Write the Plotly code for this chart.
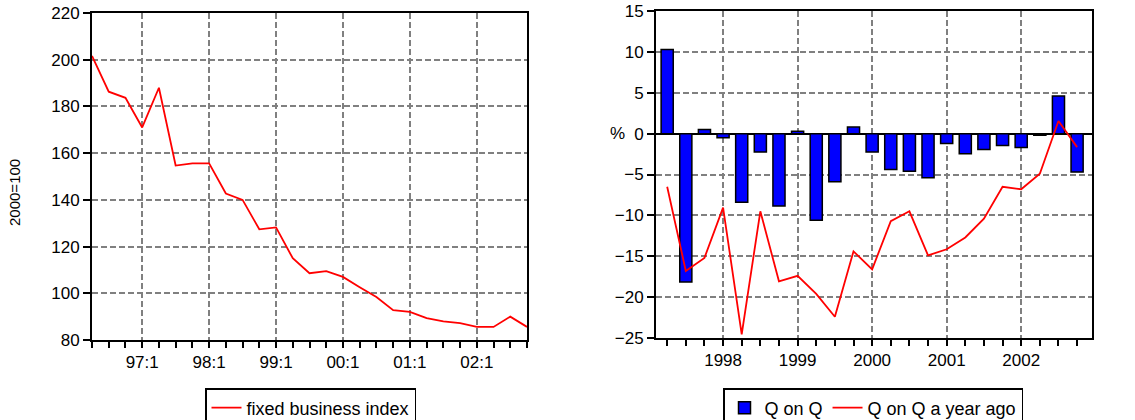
import plotly.graph_objects as go

# ---------------- data ----------------
quarters_left = ["96:2", "96:3", "96:4",
                 "97:1", "97:2", "97:3", "97:4",
                 "98:1", "98:2", "98:3", "98:4",
                 "99:1", "99:2", "99:3", "99:4",
                 "00:1", "00:2", "00:3", "00:4",
                 "01:1", "01:2", "01:3", "01:4",
                 "02:1", "02:2", "02:3", "02:4"]
fixed_business_index = [201.6, 186.3, 183.7,
                        171.0, 188.0, 154.7, 155.6,
                        155.6, 142.7, 140.0, 127.4,
                        128.2, 115.0, 108.6, 109.5,
                        107.0, 102.6, 98.4, 92.8,
                        92.0, 89.4, 88.0, 87.2,
                        85.6, 85.6, 90.0, 85.6]

quarters_right = ["1997Q2", "1997Q3", "1997Q4",
                  "1998Q1", "1998Q2", "1998Q3", "1998Q4",
                  "1999Q1", "1999Q2", "1999Q3", "1999Q4",
                  "2000Q1", "2000Q2", "2000Q3", "2000Q4",
                  "2001Q1", "2001Q2", "2001Q3", "2001Q4",
                  "2002Q1", "2002Q2", "2002Q3", "2002Q4"]
q_on_q = [10.3, -18.15, 0.5,
          -0.5, -8.4, -2.25, -8.85,
          0.3, -10.6, -5.9, 0.8,
          -2.25, -4.4, -4.6, -5.4,
          -1.2, -2.45, -1.95, -1.45,
          -1.7, -0.2, 4.6, -4.7]
q_on_q_year_ago = [-6.5, -16.8, -15.2,
                   -9.05, -24.55, -9.5, -18.07,
                   -17.4, -19.6, -22.4, -14.4,
                   -16.6, -10.7, -9.5, -14.9,
                   -14.15, -12.7, -10.4, -6.5,
                   -6.8, -4.9, 1.55, -1.65]

left_yticks = [80, 100, 120, 140, 160, 180, 200, 220]
right_yticks = [-25, -20, -15, -10, -5, 0, 5, 10, 15]

# --------------- derived positions ---------------
xl = list(range(len(quarters_left)))
xl_major = [i for i, q in enumerate(quarters_left) if q.endswith(":1")]
xl_major_text = [quarters_left[i] for i in xl_major]

xr = list(range(len(quarters_right)))
xr_major = [i for i, q in enumerate(quarters_right) if q.endswith("Q1")]
xr_major_text = [quarters_right[i][:4] for i in xr_major]

W, H = 1135, 420
FONT = "Arial, Liberation Sans, sans-serif"
FS = 17
LFS = 18
GRID = "#808080"


def fx(px):
    return px / W


def fy(py):
    return (H - py) / H


def px_x(a, b):
    return [fx(a), fx(b)]


def px_y(top, bottom):
    return [fy(bottom), fy(top)]


fig = go.Figure()

fig.add_trace(go.Scatter(
    x=xl, y=fixed_business_index, mode="lines",
    line=dict(color="#ff0000", width=1.8),
    name="fixed business index", xaxis="x", yaxis="y", legend="legend"))

fig.add_trace(go.Bar(
    x=xr, y=q_on_q, width=0.65,
    marker=dict(color="#0000ff", line=dict(color="#000000", width=1.5)),
    name="Q on Q", xaxis="x2", yaxis="y2", legend="legend2"))

fig.add_trace(go.Scatter(
    x=xr, y=q_on_q_year_ago, mode="lines",
    line=dict(color="#ff0000", width=1.8),
    name="Q on Q a year ago", xaxis="x2", yaxis="y2", legend="legend2"))

axis_common = dict(showline=True, linecolor="black", linewidth=2, mirror=True,
                   ticks="outside", tickcolor="black", tickwidth=1.5,
                   tickfont=dict(family=FONT, size=FS, color="black"),
                   showgrid=True, gridcolor=GRID, gridwidth=2, griddash="6px,3px",
                   automargin=False)

overlay_common = dict(ticks="outside", ticklen=7, tickcolor="black", tickwidth=1.5,
                      showline=False, showgrid=False, zeroline=False, automargin=False,
                      tickfont=dict(family=FONT, size=FS, color="black"))

fig.update_layout(
    template="none",
    width=W, height=H,
    margin=dict(l=0, r=0, t=0, b=0, autoexpand=False),
    paper_bgcolor="white", plot_bgcolor="white",
    font=dict(family=FONT, size=FS, color="black"),
    barmode="overlay",
    xaxis=dict(domain=px_x(92, 527), anchor="y", range=[0, len(xl) - 1],
               tickmode="array", tickvals=xl_major, ticktext=xl_major_text,
               ticklen=6, zeroline=False,
               minor=dict(dtick=1, tick0=0, ticks="outside", ticklen=6,
                          tickcolor="black", tickwidth=1.5, showgrid=False),
               **axis_common),
    yaxis=dict(domain=px_y(13, 340), anchor="x", range=[80, 220],
               tickmode="array", tickvals=left_yticks, ticklen=7, zeroline=False,
               **axis_common),
    yaxis3=dict(overlaying="y", anchor="x", side="right", range=[80, 220],
                tickmode="array", tickvals=left_yticks, **overlay_common),
    xaxis2=dict(domain=px_x(656, 1092), anchor="y2", range=[-0.6, len(xr) - 0.2],
                tickmode="array", tickvals=xr_major, ticktext=xr_major_text,
                ticklen=6, zeroline=False,
                minor=dict(dtick=1, tick0=0, ticks="outside", ticklen=6,
                           tickcolor="black", tickwidth=1.5, showgrid=False),
                **axis_common),
    yaxis2=dict(domain=px_y(11, 338), anchor="x2", range=[-25, 15],
                tickmode="array", tickvals=right_yticks, ticklen=7,
                zeroline=True, zerolinecolor="black", zerolinewidth=2,
                **axis_common),
    yaxis4=dict(overlaying="y2", anchor="x2", side="right", range=[-25, 15],
                tickmode="array", tickvals=right_yticks, **overlay_common),
    legend=dict(orientation="h", x=fx(310.5), xanchor="center", y=fy(388), yanchor="top",
                bordercolor="black", borderwidth=1.5, bgcolor="white",
                font=dict(family=FONT, size=LFS, color="black")),
    legend2=dict(orientation="h", x=fx(873), xanchor="center", y=fy(388), yanchor="top",
                 bordercolor="black", borderwidth=1.5, bgcolor="white",
                 font=dict(family=FONT, size=LFS, color="black")),
    showlegend=True,
)

fig.add_annotation(text="2000=100", xref="paper", yref="paper",
                   x=fx(14), y=fy(193), xanchor="center", yanchor="middle",
                   textangle=-90, showarrow=False,
                   font=dict(family=FONT, size=15, color="black"))
fig.add_annotation(text="%", xref="paper", yref="paper",
                   x=fx(617), y=fy(133), xanchor="center", yanchor="middle",
                   showarrow=False,
                   font=dict(family=FONT, size=FS, color="black"))

# remove the default 8px page margin so the figure fills the window exactly
fig.write_html("out.html", config={"displayModeBar": False},
               post_script="document.body.style.margin='0';")
